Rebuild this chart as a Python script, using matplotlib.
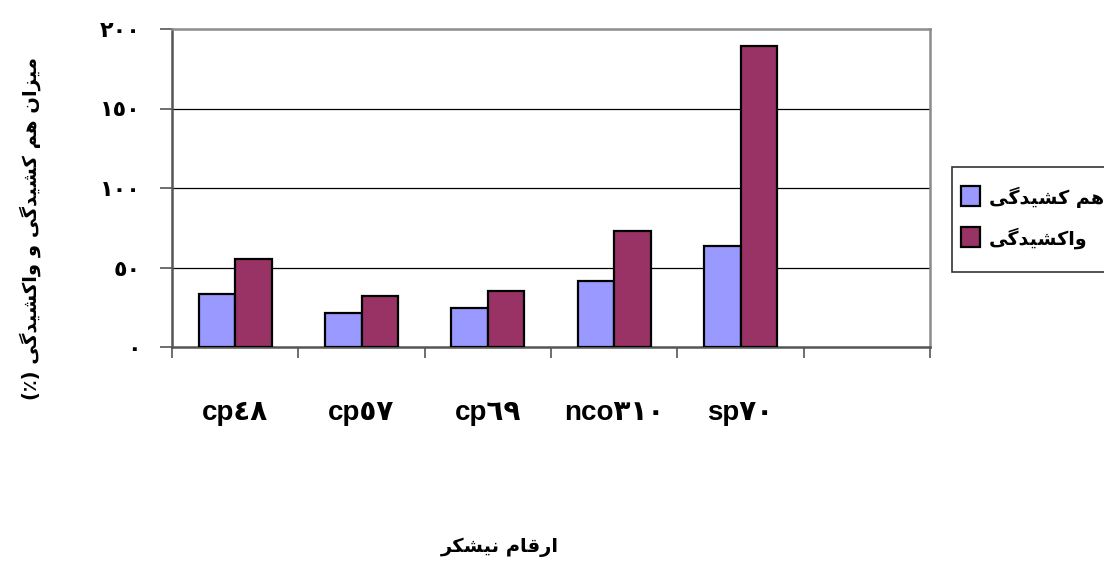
import numpy as np
import matplotlib
matplotlib.use("Agg")
import matplotlib.pyplot as plt
from matplotlib import font_manager
from matplotlib.ft2font import FT2Font
from matplotlib.patches import Rectangle

# data
categories = ["cp٤٨", "cp٥٧", "cp٦٩", "nco٣١٠", "sp٧٠", ""]
ham_keshidegi = [33.5, 21.5, 24.8, 41.5, 63.3]   # blue
va_keshidegi = [55.5, 32.0, 35.3, 73.0, 189.5]   # maroon
yticks = [0, 50, 100, 150, 200]
ytick_labels = ["٠", "٥٠", "١٠٠", "١٥٠", "٢٠٠"]
series_names = ["هم کشیدگی", "واکشیدگی"]
ylabel = "میزان هم کشیدگی و واکشیدگی (٪)"
xlabel = "ارقام نیشکر"

# presentation forms: isolated, final, initial, medial
FORMS = {
    'ا': ('\uFE8D', '\uFE8E', None, None),
    'د': ('\uFEA9', '\uFEAA', None, None),
    'ر': ('\uFEAD', '\uFEAE', None, None),
    'ز': ('\uFEAF', '\uFEB0', None, None),
    'و': ('\uFEED', '\uFEEE', None, None),
    'ق': ('\uFED5', '\uFED6', '\uFED7', '\uFED8'),
    'م': ('\uFEE1', '\uFEE2', '\uFEE3', '\uFEE4'),
    'ن': ('\uFEE5', '\uFEE6', '\uFEE7', '\uFEE8'),
    'ه': ('\uFEE9', '\uFEEA', '\uFEEB', '\uFEEC'),
    'ش': ('\uFEB5', '\uFEB6', '\uFEB7', '\uFEB8'),
    'ک': ('\uFB8E', '\uFB8F', '\uFB90', '\uFB91'),
    'گ': ('\uFB92', '\uFB93', '\uFB94', '\uFB95'),
    'ی': ('\uFBFC', '\uFBFD', '\uFBFE', '\uFBFF'),
}

bold_path = font_manager.findfont(font_manager.FontProperties(family="DejaVu Sans", weight="bold"))
bold_font = FT2Font(bold_path)


def has_glyph(ch):
    return bold_font.get_char_index(ord(ch)) != 0


def dual(ch):
    return ch in FORMS and FORMS[ch][2] is not None


def shape(text):
    # join letters and flip to visual order (matplotlib has no bidi)
    out = []
    for i, c in enumerate(text):
        if c not in FORMS:
            out.append(c)
            continue
        prev = text[i - 1] if i > 0 else ""
        nxt = text[i + 1] if i + 1 < len(text) else ""
        p = dual(prev)
        n = nxt in FORMS and dual(c)
        if p and n:
            g = FORMS[c][3]
        elif p:
            g = FORMS[c][1]
        elif n:
            g = FORMS[c][2]
        else:
            g = FORMS[c][0]
        out.append(g if has_glyph(g) else c)
    s = "".join(out)[::-1]
    return s.translate(str.maketrans("()", ")("))


def fx(px):
    return px / 1104


def fy(py):
    return 1 - py / 562


blue = "#9999FF"
maroon = "#993366"
colors = [blue, maroon]

fig = plt.figure(figsize=(11.04, 5.62), dpi=100)
ax = fig.add_axes([fx(172), fy(347), 758 / 1104, 318 / 562])

x = np.arange(len(ham_keshidegi))
w = 0.289
ax.bar(x - w / 2, ham_keshidegi, w, color=blue, edgecolor="black", linewidth=1.6, zorder=3)
ax.bar(x + w / 2, va_keshidegi, w, color=maroon, edgecolor="black", linewidth=1.6, zorder=3)

ax.set_xlim(-0.5, len(categories) - 0.5)
ax.set_ylim(0, 200)

ax.set_yticks(yticks)
ax.set_yticklabels(ytick_labels, family="DejaVu Sans", fontweight="bold", fontsize=16)
ax.tick_params(axis="y", direction="out", length=8.5, width=1.2, color="#555555", pad=14)

ax.set_xticks(np.arange(len(categories)))
ax.set_xticklabels(categories, family=["Liberation Sans", "DejaVu Sans"],
                   fontweight="bold", fontsize=20)
ax.tick_params(axis="x", which="major", length=0, pad=38)
ax.set_xticks(np.arange(len(categories) + 1) - 0.5, minor=True)
ax.tick_params(axis="x", which="minor", direction="out", length=8, width=1.2, color="#555555")

for v in yticks[1:-1]:
    ax.axhline(v, color="black", linewidth=0.9, zorder=1)

for side in ["top", "right"]:
    ax.spines[side].set_color("#8c8c8c")
    ax.spines[side].set_linewidth(1.8)
for side in ["left", "bottom"]:
    ax.spines[side].set_color("#555555")
    ax.spines[side].set_linewidth(1.8)

# legend box, drawn by hand so it runs off the right edge like the original
fig.patches.append(Rectangle((fx(952), fy(272)), fx(1120) - fx(952), fy(167) - fy(272),
                             transform=fig.transFigure, facecolor="white",
                             edgecolor="#333333", linewidth=1.2))
for i, (name, col) in enumerate(zip(series_names, colors)):
    yc = 196 + i * 41
    fig.patches.append(Rectangle((fx(961), fy(yc + 10)), fx(980) - fx(961), fy(yc - 10) - fy(yc + 10),
                                 transform=fig.transFigure, facecolor=col,
                                 edgecolor="black", linewidth=1.6))
    fig.text(fx(989), fy(yc + 1), shape(name), ha="left", va="center",
             family="DejaVu Sans", fontweight="bold", fontsize=13.8)

fig.text(fx(30), fy(228), shape(ylabel), rotation=90, ha="center", va="center",
         family="DejaVu Sans", fontweight="bold", fontsize=14)
fig.text(fx(500), fy(547), shape(xlabel), ha="center", va="center",
         family="DejaVu Sans", fontweight="bold", fontsize=14)

fig.savefig("out.png", dpi=100)
